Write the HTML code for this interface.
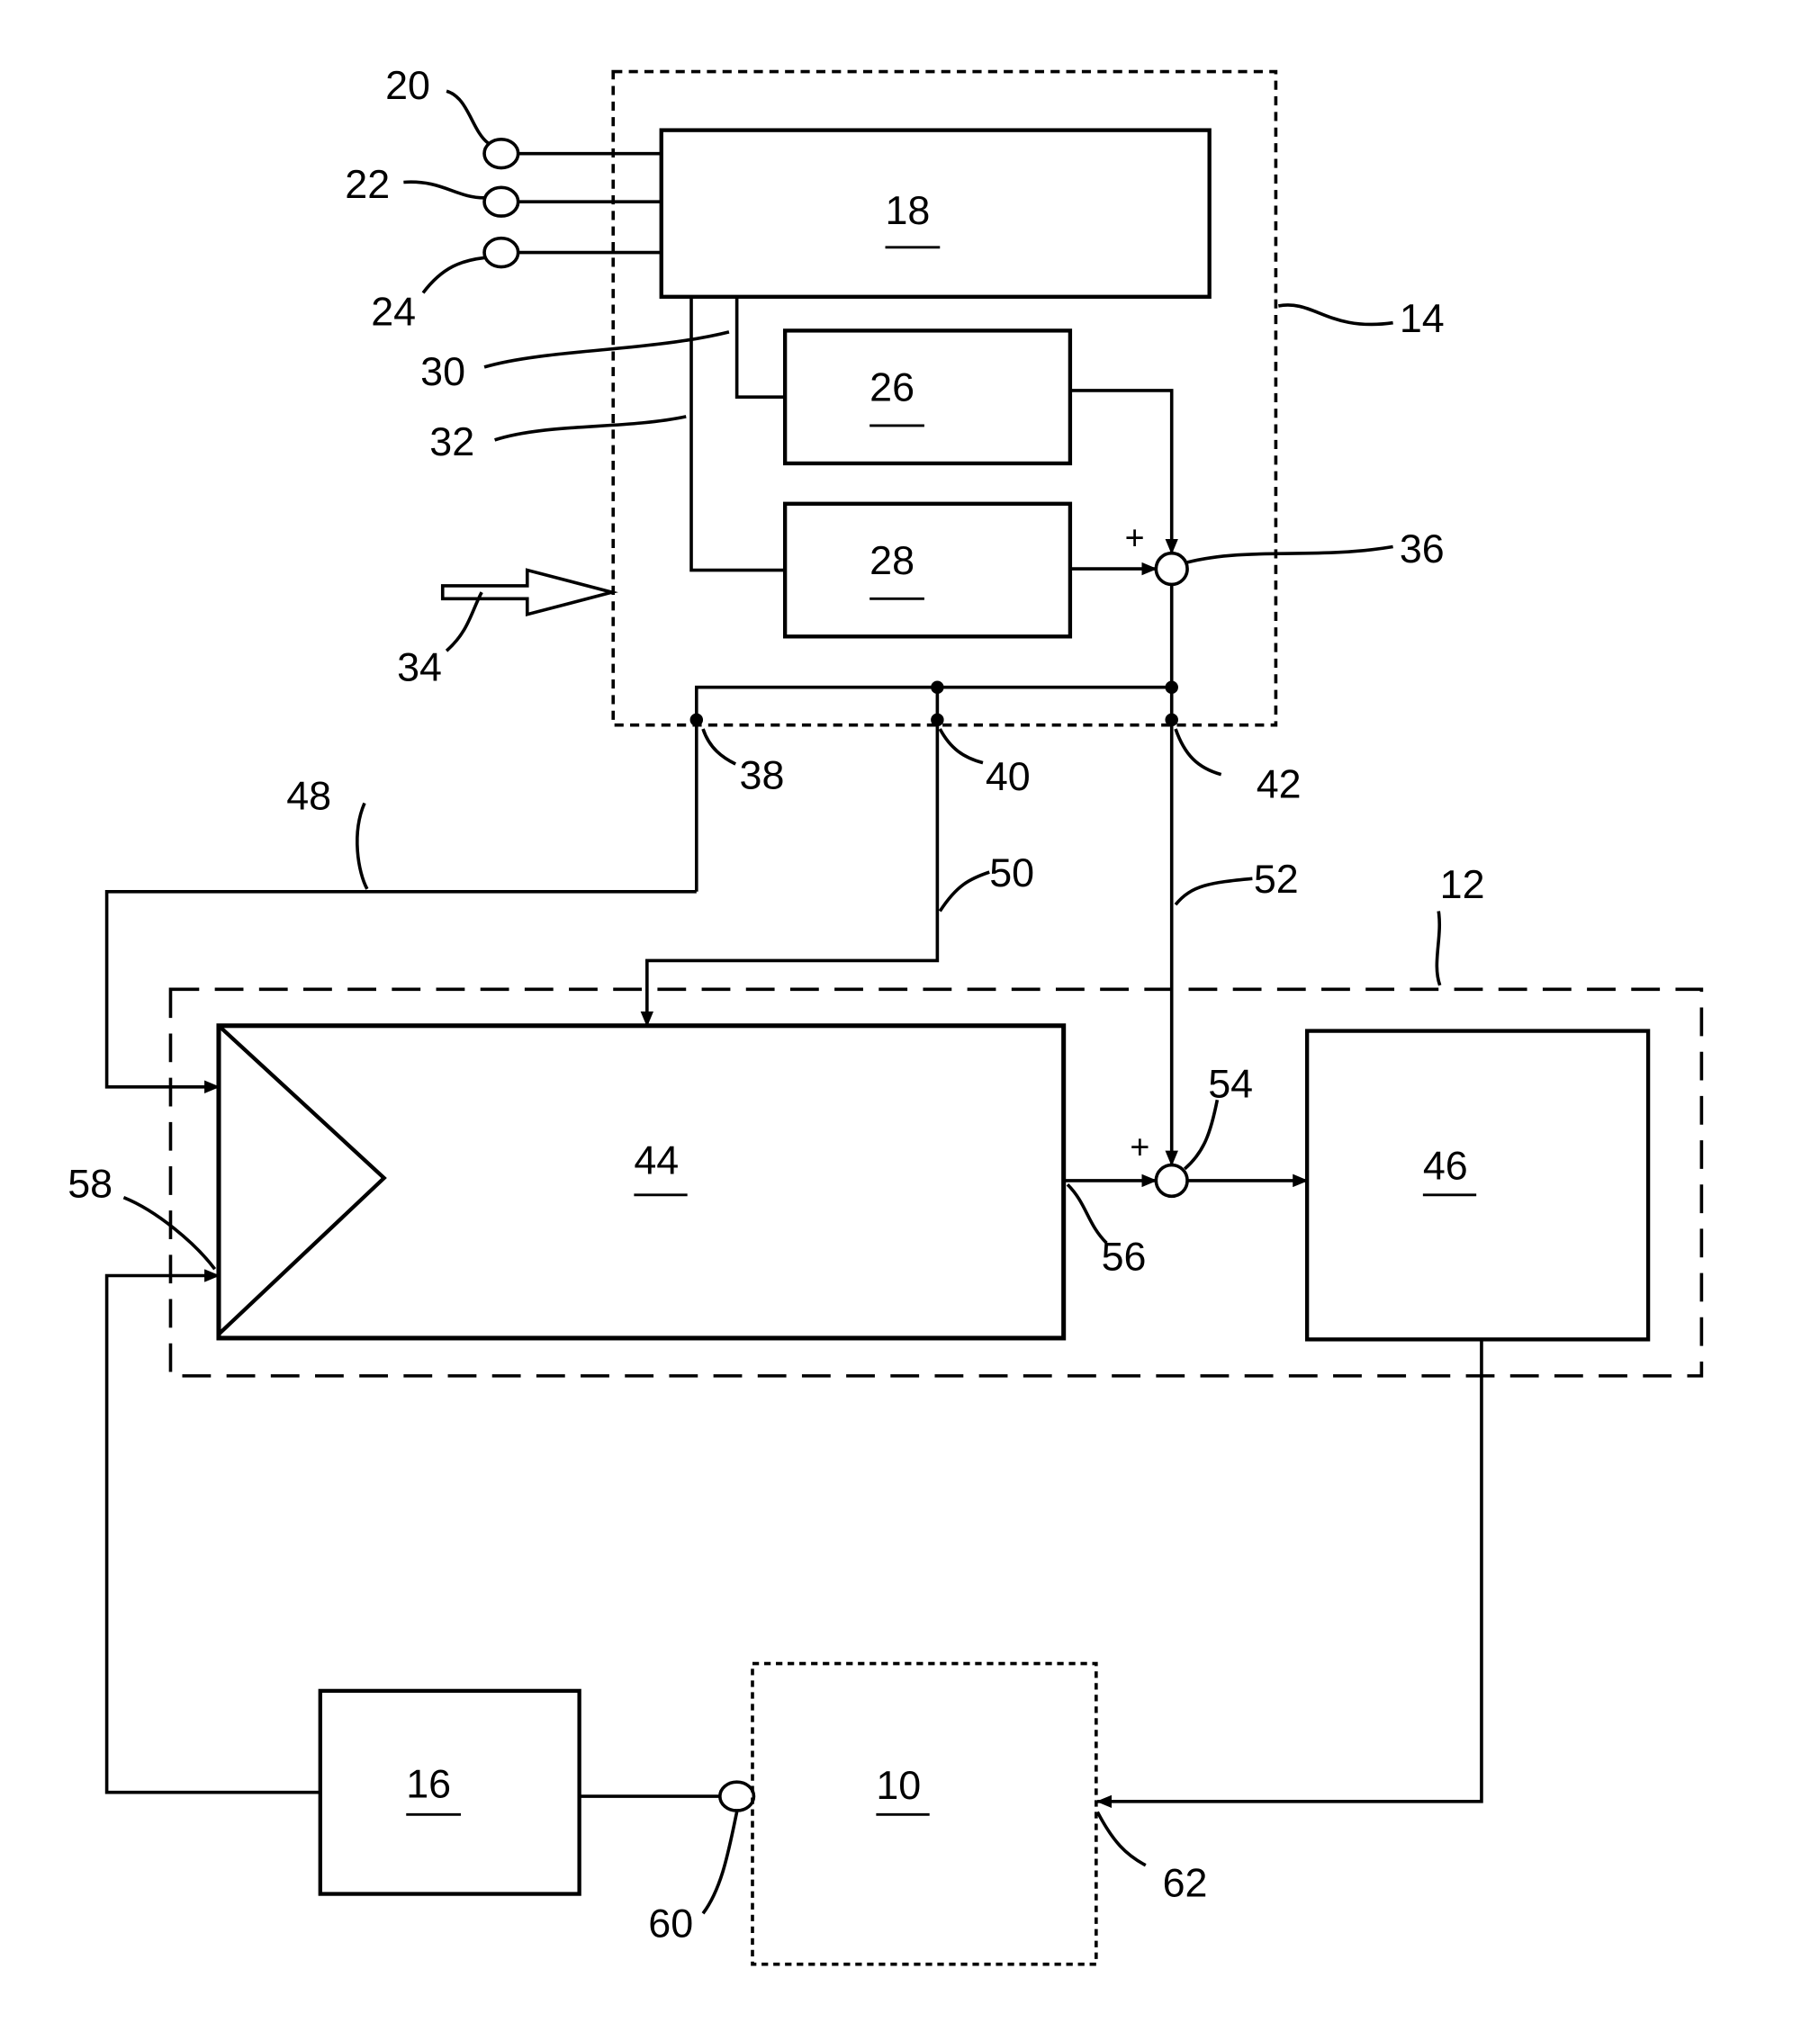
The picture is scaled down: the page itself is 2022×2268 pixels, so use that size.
<!DOCTYPE html>
<html><head><meta charset="utf-8"><style>
html,body{margin:0;padding:0;background:#fff;}
svg{display:block;}
text{font-family:"Liberation Sans",sans-serif;font-size:31px;fill:#000;}
</style></head><body>
<svg width="2022" height="2268" viewBox="0 0 1398 1568" preserveAspectRatio="none" xmlns="http://www.w3.org/2000/svg">
<defs>
<marker id="a" markerWidth="12" markerHeight="10" refX="11" refY="5" orient="auto" markerUnits="userSpaceOnUse">
<path d="M0,0 L12,5 L0,10 Z" fill="#000"/></marker>
</defs>
<g fill="none" stroke="#000" stroke-width="2.5">
<rect x="471" y="55" width="509" height="502" stroke-dasharray="7,5"/>
<rect x="131" y="760" width="1176" height="297" stroke-dasharray="22,12"/>
<rect x="578" y="1278" width="264" height="231" stroke-dasharray="5,4"/>
<rect x="508" y="100" width="421" height="128" stroke-width="3"/>
<rect x="603" y="254" width="219" height="102" stroke-width="3"/>
<rect x="603" y="387" width="219" height="102" stroke-width="3"/>
<rect x="168" y="788" width="649" height="240" stroke-width="3.5"/>
<path d="M168,788 L295,905 L168,1025" stroke-width="3"/>
<rect x="1004" y="792" width="262" height="237" stroke-width="3"/>
<rect x="246" y="1299" width="199" height="156" stroke-width="3"/>
<ellipse cx="385" cy="118" rx="13" ry="11"/>
<ellipse cx="385" cy="155" rx="13" ry="11"/>
<ellipse cx="385" cy="194" rx="13" ry="11"/>
<path d="M398,118H508 M398,155H508 M398,194H508"/>
<path d="M531,228V438H603 M566,228V305H603"/>
<path d="M822,300H900V425" marker-end="url(#a)"/>
<path d="M822,437H888" marker-end="url(#a)"/>
<circle cx="900" cy="437" r="12"/>
<path d="M900,449V895" marker-end="url(#a)"/>
<path d="M535,685V528H900"/>
<path d="M535,685H82V835H168" marker-end="url(#a)"/>
<path d="M720,528V738H497V788" marker-end="url(#a)"/>
<path d="M817,907H888" marker-end="url(#a)"/>
<circle cx="900" cy="907" r="12"/>
<path d="M912,907H1004" marker-end="url(#a)"/>
<path d="M1138,1029V1384H843" marker-end="url(#a)"/>
<path d="M445,1380H553"/>
<ellipse cx="566" cy="1380" rx="13" ry="11"/>
<path d="M246,1377H82V980H168" marker-end="url(#a)"/>
<path d="M340,450H405V438L470,455L405,472V460H340Z" stroke-width="2.5"/>
<path d="M343,70 C360,75 362,100 375,110"/>
<path d="M310,140 C340,138 350,152 372,152"/>
<path d="M325,225 C340,205 355,200 372,198"/>
<path d="M982,235 C1010,230 1020,255 1070,248"/>
<path d="M372,282 C420,268 500,270 560,255"/>
<path d="M380,338 C420,325 480,330 527,320"/>
<path d="M343,500 C360,485 362,470 370,455"/>
<path d="M912,432 C960,420 1010,430 1070,420"/>
<path d="M540,560 C545,575 555,582 565,587"/>
<path d="M722,560 C730,575 740,582 755,586"/>
<path d="M903,560 C910,580 920,590 938,595"/>
<path d="M280,617 C270,640 275,670 282,683"/>
<path d="M722,700 C735,680 745,675 760,670"/>
<path d="M903,695 C915,680 930,678 962,675"/>
<path d="M1105,700 C1108,720 1100,740 1106,757"/>
<path d="M935,845 C930,870 925,885 910,898"/>
<path d="M820,910 C835,925 835,940 850,955"/>
<path d="M95,920 C120,930 150,955 165,975"/>
<path d="M540,1470 C555,1450 560,1420 566,1392"/>
<path d="M843,1392 C855,1415 865,1425 880,1433"/>
<path d="M680,190H722 M668,327H710 M668,460H710 M487,918H528 M1093,918H1134 M312,1394H354 M673,1394H714" stroke-width="2"/>
</g>
<g fill="#000">
<circle cx="720" cy="528" r="5"/><circle cx="900" cy="528" r="5"/>
<circle cx="535" cy="553" r="5"/><circle cx="720" cy="553" r="5"/><circle cx="900" cy="553" r="5"/>
</g>
<text x="680" y="172">18</text>
<text x="668" y="308">26</text>
<text x="668" y="441">28</text>
<text x="487" y="902">44</text>
<text x="1093" y="906">46</text>
<text x="312" y="1381">16</text>
<text x="673" y="1382">10</text>
<text x="296" y="76">20</text>
<text x="265" y="152">22</text>
<text x="285" y="250">24</text>
<text x="1075" y="255">14</text>
<text x="323" y="296">30</text>
<text x="330" y="350">32</text>
<text x="305" y="523">34</text>
<text x="1075" y="432">36</text>
<text x="568" y="606">38</text>
<text x="757" y="607">40</text>
<text x="965" y="613">42</text>
<text x="220" y="622">48</text>
<text x="760" y="681">50</text>
<text x="963" y="686">52</text>
<text x="1106" y="690">12</text>
<text x="928" y="843">54</text>
<text x="846" y="976">56</text>
<text x="52" y="920">58</text>
<text x="498" y="1488">60</text>
<text x="893" y="1457">62</text>
<text x="864" y="422" style="font-size:26px">+</text>
<text x="868" y="890" style="font-size:26px">+</text>
</svg>
</body></html>
